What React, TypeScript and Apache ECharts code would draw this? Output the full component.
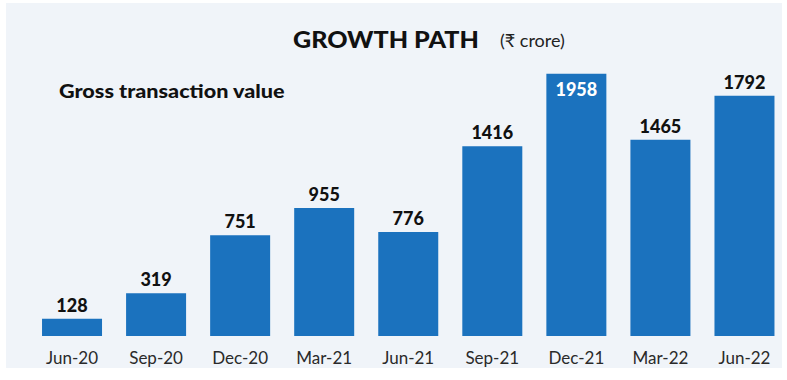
import React, { useEffect, useRef } from "react";
import * as echarts from "echarts";

const categories = ["Jun-20", "Sep-20", "Dec-20", "Mar-21", "Jun-21", "Sep-21", "Dec-21", "Mar-22", "Jun-22"];
const values = [128, 319, 751, 955, 776, 1416, 1958, 1465, 1792];
const insideLabelCategory = "Dec-21";
const titleText = "GROWTH PATH";
const unitText = "(₹ crore)";
const subtitleText = "Gross transaction value";

export default function App() {
  const ref = useRef<HTMLDivElement>(null);
  useEffect(() => {
    const chart = echarts.init(ref.current!, null, { renderer: "svg" });
    const data = values.map((v, i) => {
      if (categories[i] === insideLabelCategory) {
        return {
          value: v,
          label: { position: "insideTop", color: "#ffffff", distance: 6 },
        };
      }
      return { value: v };
    });
    chart.setOption({
      animation: false,
      backgroundColor: "#ffffff",
      graphic: [
        {
          type: "rect",
          z: -10,
          shape: { x: 6, y: 3, width: 776, height: 365 },
          style: { fill: "#f0f4f9" },
          silent: true,
        },
        {
          type: "text",
          x: 293,
          y: 40,
          scaleX: 1.14,
          style: {
            text: titleText,
            font: "900 22px Lato",
            fill: "#111111",
            verticalAlign: "middle",
            align: "left",
          },
        },
        {
          type: "text",
          x: 500,
          y: 40,
          style: {
            text: unitText,
            font: "18px Lato",
            fill: "#222222",
            verticalAlign: "middle",
            align: "left",
          },
        },
        {
          type: "text",
          x: 59,
          y: 91,
          scaleX: 1.2,
          style: {
            text: subtitleText,
            font: "900 18px Lato",
            fill: "#111111",
            verticalAlign: "middle",
            align: "left",
          },
        },
      ],
      grid: { left: 30, right: 0.5, top: 68, bottom: 44 },
      xAxis: {
        type: "category",
        data: categories,
        axisLine: { show: false },
        axisTick: { show: false },
        axisLabel: { fontFamily: "Lato", fontSize: 17, color: "#2a2a2a", margin: 13 },
      },
      yAxis: {
        type: "value",
        min: 0,
        max: 2000,
        show: false,
        splitLine: { show: false },
      },
      series: [
        {
          type: "bar",
          data,
          barWidth: 60,
          itemStyle: { color: "#1b72be" },
          label: {
            show: true,
            position: "top",
            distance: 5,
            fontFamily: "Lato",
            fontWeight: 900,
            fontSize: 18,
            color: "#111111",
          },
        },
      ],
    });
    return () => chart.dispose();
  }, []);
  return <div ref={ref} style={{ position: "absolute", left: 0, top: 0, width: 787, height: 380 }} />;
}
